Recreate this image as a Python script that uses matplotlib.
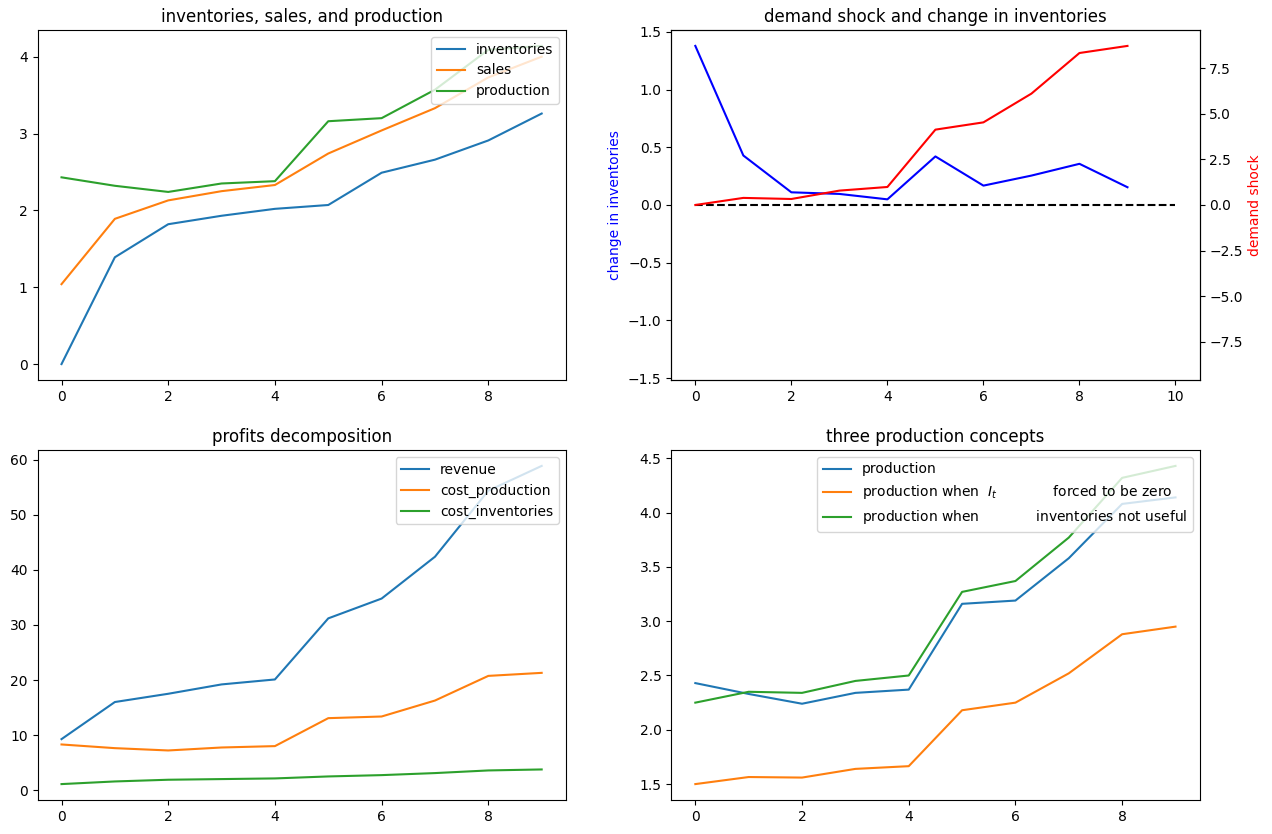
import numpy as np
import matplotlib
matplotlib.use("Agg")
import matplotlib.pyplot as plt

t = list(range(10))

inventories = [0.0, 1.39, 1.82, 1.93, 2.02, 2.07, 2.49, 2.66, 2.91, 3.26]
sales = [1.04, 1.89, 2.13, 2.25, 2.33, 2.74, 3.04, 3.33, 3.73, 4.00]
production = [2.43, 2.32, 2.24, 2.35, 2.38, 3.16, 3.20, 3.57, 4.09, 4.14]

change_inv = [1.379, 0.429, 0.110, 0.096, 0.049, 0.421, 0.168, 0.255, 0.357, 0.154]
demand_shock = [0.0, 0.39, 0.33, 0.79, 0.99, 4.14, 4.54, 6.12, 8.35, 8.74]
zero_x = [0, 10]
zero_y = [0, 0]

revenue = [9.26, 16.0, 17.5, 19.2, 20.1, 31.2, 34.8, 42.4, 54.4, 58.9]
cost_production = [8.29, 7.62, 7.20, 7.74, 7.99, 13.07, 13.37, 16.27, 20.75, 21.30]
cost_inventories = [1.09, 1.57, 1.88, 2.00, 2.12, 2.48, 2.72, 3.09, 3.57, 3.75]

prod_base = [2.43, 2.33, 2.24, 2.34, 2.37, 3.16, 3.19, 3.58, 4.08, 4.14]
prod_zero_inv = [1.50, 1.565, 1.56, 1.64, 1.665, 2.18, 2.25, 2.52, 2.88, 2.95]
prod_no_use = [2.25, 2.35, 2.34, 2.45, 2.50, 3.27, 3.37, 3.77, 4.32, 4.43]

fig, axes = plt.subplots(2, 2, figsize=(12.72, 8.34), dpi=100)
fig.subplots_adjust(left=37.5/1272, right=1199.5/1272, top=1-30/834,
                    bottom=1-800/834, wspace=0.2, hspace=0.2)

ax = axes[0, 0]
ax.plot(t, inventories, label="inventories")
ax.plot(t, sales, label="sales")
ax.plot(t, production, label="production")
ax.set_title("inventories, sales, and production")
ax.legend(loc="upper right")

ax = axes[0, 1]
ax.plot(t, change_inv, color="blue")
ax.plot(zero_x, zero_y, "k--")
m1 = max(abs(v) for v in change_inv) * 1.1
ax.set_ylim(-m1, m1)
ax.set_ylabel("change in inventories", color="blue")
ax.set_title("demand shock and change in inventories")
ax2 = ax.twinx()
ax2.plot(t, demand_shock, color="red")
m2 = max(abs(v) for v in demand_shock) * 1.1
ax2.set_ylim(-m2, m2)
ax2.set_ylabel("demand shock", color="red")

ax = axes[1, 0]
ax.plot(t, revenue, label="revenue")
ax.plot(t, cost_production, label="cost_production")
ax.plot(t, cost_inventories, label="cost_inventories")
ax.set_title("profits decomposition")
ax.legend(loc="upper right")

ax = axes[1, 1]
ax.plot(t, prod_base, label="production")
ax.plot(t, prod_zero_inv, label=r"production when  $I_t$ $\qquad\quad\;\;$ forced to be zero")
ax.plot(t, prod_no_use, label=r"production when $\qquad\quad\;\;$ inventories not useful")
ax.set_title("three production concepts")
ax.legend(loc="upper right")

fig.savefig("out.png", dpi=100)
